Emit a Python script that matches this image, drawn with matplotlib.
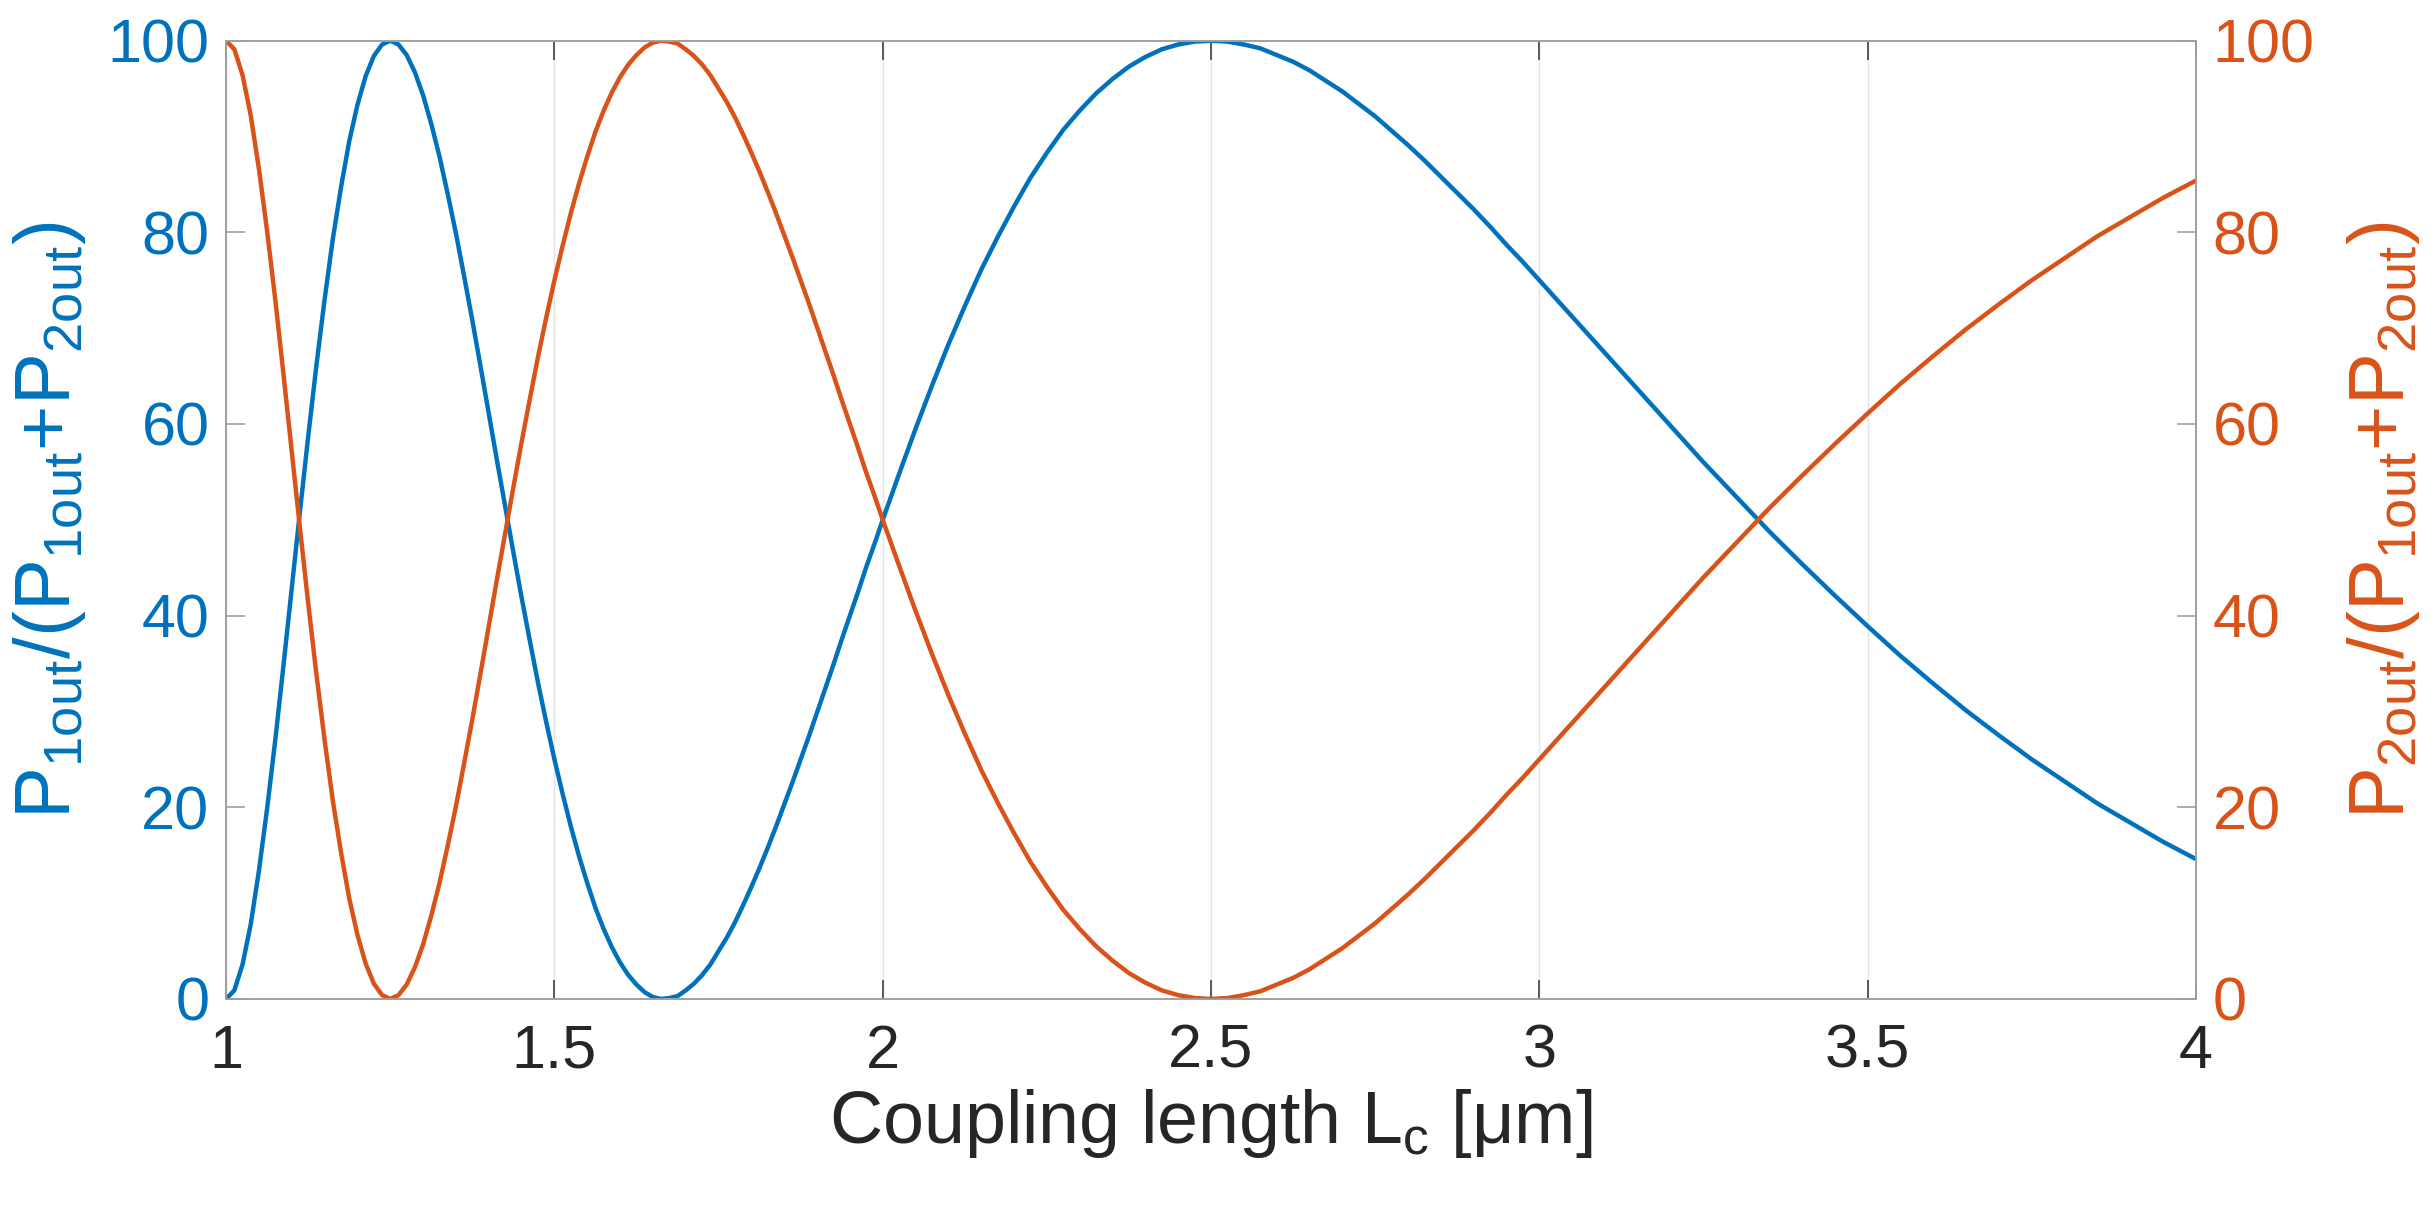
import numpy as np
import matplotlib
matplotlib.use("Agg")
import matplotlib.pyplot as plt

plt.rcParams['font.family'] = ['Liberation Sans', 'DejaVu Sans']
plt.rcParams['mathtext.fontset'] = 'custom'
plt.rcParams['mathtext.rm'] = 'Liberation Sans'
plt.rcParams['mathtext.it'] = 'Liberation Sans'

# === 데이터 ===
Lc = [1.0000, 1.0125, 1.0250, 1.0375, 1.0500, 1.0625, 1.0750, 1.0875, 1.1000, 1.1125,
      1.1250, 1.1375, 1.1500, 1.1625, 1.1750, 1.1875, 1.2000, 1.2125, 1.2250, 1.2375,
      1.2500, 1.2625, 1.2750, 1.2875, 1.3000, 1.3125, 1.3250, 1.3375, 1.3500, 1.3625,
      1.3750, 1.3875, 1.4000, 1.4125, 1.4250, 1.4375, 1.4500, 1.4625, 1.4750, 1.4875,
      1.5000, 1.5125, 1.5250, 1.5375, 1.5500, 1.5625, 1.5750, 1.5875, 1.6000, 1.6125,
      1.6250, 1.6375, 1.6500, 1.6625, 1.6750, 1.6875, 1.7000, 1.7125, 1.7250, 1.7375,
      1.7500, 1.7625, 1.7750, 1.7875, 1.8000, 1.8125, 1.8250, 1.8375, 1.8500, 1.8625,
      1.8750, 1.8875, 1.9000, 1.9125, 1.9250, 1.9375, 1.9500, 1.9625, 1.9750, 1.9875,
      2.000, 2.025, 2.050, 2.075, 2.100, 2.125, 2.150, 2.175, 2.200, 2.225,
      2.250, 2.275, 2.300, 2.325, 2.350, 2.375, 2.400, 2.425, 2.450, 2.475,
      2.500, 2.525, 2.550, 2.575, 2.600, 2.625, 2.650, 2.675, 2.700, 2.725,
      2.750, 2.775, 2.800, 2.825, 2.850, 2.875, 2.900, 2.925, 2.950, 2.975,
      3.00, 3.05, 3.10, 3.15, 3.20, 3.25, 3.30, 3.35, 3.40, 3.45,
      3.50, 3.55, 3.60, 3.65, 3.70, 3.75, 3.80, 3.85, 3.90, 3.95, 4.00]

P1_ratio = [0.0, 0.9, 3.6, 7.8, 13.4, 19.9, 27.1, 34.9, 42.9, 50.9,
            58.7, 66.1, 73.0, 79.3, 84.7, 89.5, 93.3, 96.3, 98.4, 99.6,
            100.0, 99.6, 98.5, 96.7, 94.3, 91.3, 87.9, 84.0, 79.9, 75.4,
            70.8, 66.0, 61.1, 56.2, 51.4, 46.6, 41.9, 37.4, 33.0, 28.9,
            25.0, 21.4, 18.0, 14.9, 12.1, 9.5, 7.3, 5.4, 3.8, 2.5,
            1.5, 0.7, 0.2, 0.0, 0.1, 0.3, 0.9, 1.6, 2.5, 3.6,
            5.0, 6.4, 8.0, 9.8, 11.7, 13.7, 15.8, 18.0, 20.3, 22.6,
            25.0, 27.4, 29.9, 32.4, 34.9, 37.5, 40.0, 42.5, 45.1, 47.5,
            50.0, 54.8, 59.5, 64.0, 68.3, 72.3, 76.1, 79.5, 82.7, 85.7,
            88.3, 90.7, 92.7, 94.5, 96.0, 97.3, 98.3, 99.1, 99.6, 99.9,
            100.0, 99.9, 99.6, 99.2, 98.5, 97.8, 96.9, 95.8, 94.7, 93.4,
            92.1, 90.6, 89.1, 87.5, 85.8, 84.1, 82.4, 80.6, 78.7, 76.9,
            75.0, 71.2, 67.4, 63.6, 59.8, 56.0, 52.4, 48.8, 45.4, 42.1,
            38.9, 35.8, 32.9, 30.1, 27.5, 25.0, 22.7, 20.4, 18.4, 16.4, 14.6]

P2_ratio = [100.0, 99.1, 96.4, 92.2, 86.6, 80.1, 72.9, 65.1, 57.1, 49.1,
            41.3, 33.9, 27.0, 20.7, 15.3, 10.5, 6.7, 3.7, 1.6, 0.4,
            0.0, 0.4, 1.5, 3.3, 5.7, 8.7, 12.1, 16.0, 20.1, 24.6,
            29.2, 34.0, 38.9, 43.8, 48.6, 53.4, 58.1, 62.6, 67.0, 71.1,
            75.0, 78.6, 82.0, 85.1, 87.9, 90.5, 92.7, 94.6, 96.2, 97.5,
            98.5, 99.3, 99.8, 100.0, 99.9, 99.7, 99.1, 98.4, 97.5, 96.4,
            95.0, 93.6, 92.0, 90.2, 88.3, 86.3, 84.2, 82.0, 79.7, 77.4,
            75.0, 72.6, 70.1, 67.6, 65.1, 62.5, 60.0, 57.5, 54.9, 52.5,
            50.0, 45.2, 40.5, 36.0, 31.7, 27.7, 23.9, 20.5, 17.3, 14.3,
            11.7, 9.3, 7.3, 5.5, 4.0, 2.7, 1.7, 0.9, 0.4, 0.1,
            0.0, 0.1, 0.4, 0.8, 1.5, 2.2, 3.1, 4.2, 5.3, 6.6,
            7.9, 9.4, 10.9, 12.5, 14.2, 15.9, 17.6, 19.4, 21.3, 23.1,
            25.0, 28.8, 32.6, 36.4, 40.2, 44.0, 47.6, 51.2, 54.6, 57.9,
            61.1, 64.2, 67.1, 69.9, 72.5, 75.0, 77.3, 79.6, 81.6, 83.6, 85.4]

x_ticks = [1, 1.5, 2, 2.5, 3, 3.5, 4]
x_ticklabels = ['1', '1.5', '2', '2.5', '3', '3.5', '4']
y_ticks = [0, 20, 40, 60, 80, 100]

blue = '#0072BD'
orange = '#D95319'
spine_col = '#a0a0a0'

fig = plt.figure(figsize=(24.34, 12.10), dpi=100)
ax = fig.add_axes([0.0929, 0.1744, 0.8093, 0.7920])
ax2 = ax.twinx()

ax.plot(Lc, P1_ratio, color=blue, lw=3.2)
ax2.plot(Lc, P2_ratio, color=orange, lw=3.2)

ax.set_xlim(1, 4)
ax.set_ylim(0, 100)
ax2.set_ylim(0, 100)
ax.set_xticks(x_ticks)
ax.set_xticklabels(x_ticklabels)
ax.set_yticks(y_ticks)
ax2.set_yticks(y_ticks)

ax.grid(axis='x', color='#e4e4e4', lw=1.0)
ax.set_axisbelow(True)

for a in (ax, ax2):
    for s in a.spines.values():
        s.set_color(spine_col)
        s.set_linewidth(1.2)

ax.tick_params(axis='x', direction='in', length=14, width=1.2, color='#404040',
               labelsize=44, labelcolor='#262626', pad=18, top=True)
ax.tick_params(axis='y', direction='in', length=14, width=1.2, color=spine_col,
               labelsize=44, labelcolor=blue, pad=12)
ax2.tick_params(axis='y', direction='in', length=14, width=1.2, color=spine_col,
                labelsize=44, labelcolor=orange, pad=12)

ax.set_xlabel(r'Coupling length L$_\mathrm{c}$ [μm]', fontsize=53, color='#262626', labelpad=4)
ax.set_ylabel(r'P$_\mathrm{1out}$/(P$_\mathrm{1out}$+P$_\mathrm{2out}$)', fontsize=56,
              color=blue, labelpad=14)
ax2.set_ylabel(r'P$_\mathrm{2out}$/(P$_\mathrm{1out}$+P$_\mathrm{2out}$)', fontsize=56,
               color=orange, labelpad=22)

fig.savefig('out.png', dpi=100, facecolor='white')
